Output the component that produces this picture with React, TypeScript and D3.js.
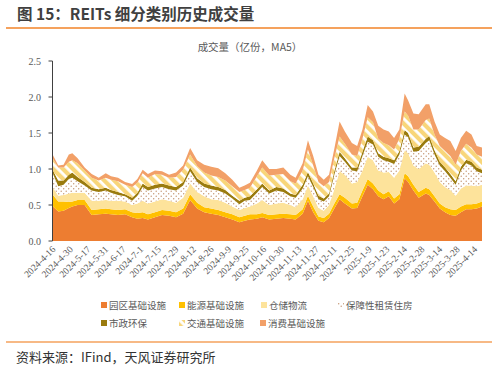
import React from 'react';
import * as d3 from 'd3';

const dayIndex = [0,3,6,9,11,14,18,22,26,30,33,37,41,45,48,51,54,58,62,66,70,74,78,82,86,90,94,98,102,106,109,112,116,119,123,127,131,135,138,142,145,148,151,154,157,160,163,166,170,173,176,179,182,185,188,191,194,197,200,202,205,208,212,214,217,220,223,226,229,232,235,238,241,244];

const parkInfra = [0.48,0.41,0.42,0.46,0.48,0.50,0.50,0.36,0.37,0.38, 0.37,0.36,0.37,0.33,0.31,0.32,0.30,0.33,0.36,0.35, 0.33,0.38,0.57,0.45,0.40,0.38,0.36,0.33,0.30,0.26, 0.28,0.30,0.31,0.33,0.30,0.31,0.32,0.31,0.30,0.38, 0.56,0.40,0.28,0.26,0.32,0.45,0.58,0.52,0.45,0.46, 0.62,0.78,0.72,0.62,0.58,0.62,0.52,0.58,0.87,0.82, 0.70,0.60,0.66,0.64,0.55,0.45,0.40,0.36,0.35,0.40, 0.44,0.44,0.45,0.48];
const energyInfra = [0.16,0.14,0.13,0.08,0.07,0.07,0.07,0.07,0.07,0.07, 0.07,0.07,0.07,0.07,0.08,0.08,0.07,0.07,0.07,0.07, 0.07,0.07,0.08,0.08,0.07,0.07,0.07,0.07,0.07,0.07, 0.07,0.07,0.06,0.06,0.06,0.06,0.06,0.06,0.06,0.06, 0.07,0.08,0.06,0.06,0.06,0.07,0.07,0.08,0.07,0.07, 0.08,0.08,0.08,0.08,0.07,0.07,0.07,0.07,0.07,0.08, 0.08,0.08,0.08,0.08,0.07,0.07,0.07,0.08,0.08,0.08, 0.07,0.07,0.07,0.07];
const warehouse = [0.10,0.08,0.09,0.12,0.12,0.10,0.10,0.13,0.12,0.12, 0.12,0.13,0.11,0.10,0.13,0.16,0.15,0.15,0.15,0.14, 0.13,0.15,0.15,0.15,0.15,0.13,0.14,0.13,0.11,0.10, 0.11,0.11,0.15,0.18,0.14,0.15,0.15,0.13,0.11,0.14, 0.14,0.14,0.12,0.10,0.12,0.20,0.32,0.32,0.28,0.29, 0.28,0.31,0.32,0.28,0.30,0.27,0.29,0.33,0.32,0.32, 0.27,0.32,0.34,0.34,0.33,0.30,0.28,0.27,0.20,0.25, 0.26,0.26,0.24,0.23];
const rentalHousing = [0.19,0.13,0.14,0.20,0.21,0.16,0.10,0.14,0.12,0.13, 0.11,0.08,0.07,0.06,0.11,0.19,0.18,0.18,0.17,0.16, 0.17,0.17,0.17,0.14,0.13,0.14,0.13,0.13,0.11,0.08, 0.10,0.09,0.15,0.18,0.16,0.18,0.15,0.12,0.13,0.15, 0.13,0.13,0.12,0.13,0.12,0.20,0.21,0.18,0.18,0.15, 0.20,0.21,0.22,0.19,0.17,0.14,0.19,0.22,0.22,0.22, 0.19,0.25,0.28,0.34,0.25,0.23,0.22,0.17,0.15,0.25, 0.31,0.28,0.21,0.16];
const municipal = [0.05,0.08,0.06,0.06,0.07,0.06,0.05,0.04,0.04,0.04, 0.04,0.04,0.03,0.04,0.04,0.05,0.05,0.05,0.05,0.05, 0.05,0.05,0.05,0.05,0.05,0.05,0.05,0.05,0.04,0.05, 0.04,0.05,0.05,0.05,0.04,0.05,0.05,0.04,0.04,0.05, 0.06,0.05,0.05,0.04,0.04,0.05,0.06,0.05,0.04,0.05, 0.06,0.07,0.06,0.05,0.05,0.05,0.05,0.05,0.06,0.06, 0.06,0.06,0.06,0.06,0.06,0.05,0.05,0.05,0.05,0.05, 0.05,0.05,0.05,0.05];
const transport = [0.16,0.18,0.18,0.18,0.17,0.19,0.16,0.14,0.12,0.14, 0.14,0.15,0.13,0.15,0.14,0.14,0.13,0.15,0.12,0.11, 0.14,0.17,0.18,0.17,0.15,0.14,0.14,0.13,0.13,0.12, 0.11,0.12,0.18,0.22,0.21,0.17,0.20,0.17,0.16,0.20, 0.31,0.25,0.19,0.17,0.16,0.18,0.21,0.20,0.18,0.16, 0.18,0.27,0.25,0.20,0.19,0.18,0.15,0.17,0.26,0.24, 0.25,0.24,0.26,0.24,0.22,0.22,0.23,0.25,0.23,0.22, 0.22,0.20,0.18,0.18];
const consumer = [0.05,0.03,0.04,0.10,0.10,0.07,0.04,0.05,0.04,0.06, 0.05,0.05,0.04,0.04,0.05,0.05,0.05,0.05,0.05,0.04, 0.06,0.06,0.09,0.08,0.11,0.12,0.12,0.10,0.09,0.06, 0.06,0.07,0.08,0.10,0.09,0.08,0.09,0.09,0.08,0.10, 0.13,0.13,0.10,0.09,0.10,0.13,0.21,0.17,0.16,0.14, 0.13,0.17,0.15,0.18,0.19,0.19,0.16,0.13,0.25,0.21, 0.22,0.21,0.22,0.20,0.18,0.16,0.18,0.21,0.19,0.18, 0.18,0.18,0.12,0.13];

const xTickLabels = ['2024-4-16','2024-4-30','2024-5-17','2024-5-31','2024-6-17','2024-7-1','2024-7-15','2024-7-29','2024-8-12','2024-8-26','2024-9-9','2024-9-25','2024-10-16','2024-10-30','2024-11-13','2024-11-27','2024-12-11','2024-12-25','2025-1-9','2025-1-23','2025-2-14','2025-2-28','2025-3-14','2025-3-28','2025-4-14'];
const xTickStep = 10;
const yTicks = [0, 0.5, 1.0, 1.5, 2.0, 2.5];
const seriesNames = ['园区基础设施','能源基础设施','仓储物流','保障性租赁住房','市政环保','交通基础设施','消费基础设施'];
const seriesKeys = ['park','energy','warehouse','rental','municipal','transport','consumer'];
const seriesFills = ['#ED7D31','#FFC000','#FDE39B','url(#dotPat)','#9A7B0E','url(#stripePat)','#F2A068'];

const serif = '"Liberation Serif","DejaVu Serif",serif';
const cjk = '"Noto Sans CJK SC","Noto Sans",sans-serif';

export default function App() {
  const rows = dayIndex.map((d, i) => ({
    day: d,
    park: parkInfra[i],
    energy: energyInfra[i],
    warehouse: warehouse[i],
    rental: rentalHousing[i],
    municipal: municipal[i],
    transport: transport[i],
    consumer: consumer[i],
  }));
  const stacked = d3.stack<any>().keys(seriesKeys)(rows);
  const x = d3.scaleLinear().domain([0, 244]).range([53, 482]);
  const y = d3.scaleLinear().domain([0, 2.5]).range([241, 61]);
  const area = d3.area<any>()
    .x((d: any) => x(d.data.day))
    .y0((d: any) => y(d[0]))
    .y1((d: any) => y(d[1]));

  const legendPos = [
    [104, 305], [182, 305], [264, 305], [341, 305],
    [104, 323], [182, 323], [263, 323],
  ];

  return (
    <svg width={499} height={370} style={{ position: 'absolute', left: 0, top: 0, background: '#fff' }}>
      <defs>
        <pattern id="dotPat" width={5} height={5} patternUnits="userSpaceOnUse">
          <rect width={5} height={5} fill="#fff" />
          <circle cx={1.2} cy={1.2} r={0.7} fill="#C49470" />
          <circle cx={3.7} cy={3.7} r={0.7} fill="#C49470" />
        </pattern>
        <pattern id="stripePat" width={7} height={7} patternUnits="userSpaceOnUse" patternTransform="rotate(-45)">
          <rect width={7} height={7} fill="#fff" />
          <rect width={4.2} height={7} fill="#F8D67A" />
        </pattern>
      </defs>
      <text x={17} y={20} fontFamily={cjk} fontWeight={700} fontSize={15.5} fill="#404040">图 15：REITs 细分类别历史成交量</text>
      <line x1={6} x2={492} y1={28} y2={28} stroke="#F5A25D" strokeWidth={2} />

      <text x={250} y={51} textAnchor="middle" fontFamily={cjk} fontSize={10.5} fill="#595959">成交量（亿份，MA5）</text>

      {stacked.map((s, i) => (
        <path key={seriesKeys[i]} d={area(s as any) || ''} fill={seriesFills[i]} />
      ))}

      <line x1={52.5} x2={52.5} y1={y(2.5)} y2={y(0)} stroke="#404040" strokeWidth={1} />
      {yTicks.map((t) => (
        <g key={t}>
          <line x1={48.5} x2={52.5} y1={y(t)} y2={y(t)} stroke="#404040" strokeWidth={1} />
          <text x={41} y={y(t) + 3.5} textAnchor="end" fontFamily={serif} fontSize={10} fill="#595959">{t.toFixed(1)}</text>
        </g>
      ))}

      {xTickLabels.map((lab, k) => {
        const xp = x(k * xTickStep);
        return (
          <text key={lab} transform={`translate(${xp + 3},${250}) rotate(-45)`} textAnchor="end" fontFamily={serif} fontSize={9.5} fill="#595959">{lab}</text>
        );
      })}

      {seriesNames.map((name, i) => (
        <g key={name}>
          <rect x={legendPos[i][0] - 3} y={legendPos[i][1] - 3} width={6} height={6} fill={seriesFills[i]} />
          <text x={legendPos[i][0] + 5} y={legendPos[i][1] + 3.5} fontFamily={cjk} fontSize={9.5} fill="#595959">{name}</text>
        </g>
      ))}

      <line x1={6} x2={492} y1={342} y2={342} stroke="#F5A25D" strokeWidth={1.5} />
      <text x={16} y={362} fontFamily={cjk} fontSize={13} fill="#333">资料来源：IFind，天风证券研究所</text>
    </svg>
  );
}
